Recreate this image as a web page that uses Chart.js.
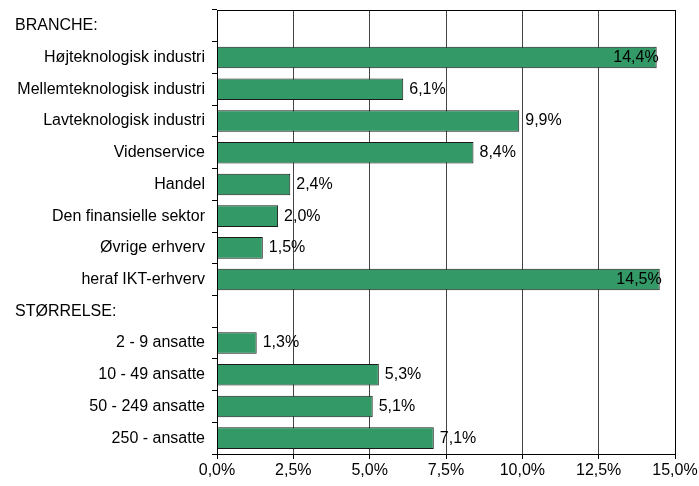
<!DOCTYPE html>
<html>
<head>
<meta charset="utf-8">
<script src="https://cdn.jsdelivr.net/npm/chart.js@4"></script>
<style>
html,body{margin:0;padding:0;background:#fff;}
#wrap{width:699px;height:486px;position:relative;}
</style>
</head>
<body>
<div id="wrap"><canvas id="c" width="699" height="486"></canvas></div>
<script>
const categories = ["BRANCHE:", "Højteknologisk industri", "Mellemteknologisk industri", "Lavteknologisk industri", "Videnservice", "Handel", "Den finansielle sektor", "Øvrige erhverv", "heraf IKT-erhverv", "STØRRELSE:", "2 - 9 ansatte", "10 - 49 ansatte", "50 - 249 ansatte", "250 - ansatte"];
const headerRows = ["BRANCHE:", "STØRRELSE:"];
const values = [null, 14.4, 6.1, 9.9, 8.4, 2.4, 2.0, 1.5, 14.5, null, 1.3, 5.3, 5.1, 7.1];
const xTicks = [0, 2.5, 5, 7.5, 10, 12.5, 15];

const FONT = '"Liberation Sans", Arial, sans-serif';
const FS = 16;
const fmt = v => v.toFixed(1).replace('.', ',') + '%';

const framePlugin = {
  id: 'frame',
  afterDatasetsDraw(chart) {
    const {ctx, chartArea: a} = chart;
    ctx.save();
    ctx.strokeStyle = '#000';
    ctx.lineWidth = 1;
    ctx.strokeRect(Math.round(a.left) + 0.5, Math.round(a.top) + 0.5, Math.round(a.right - a.left), Math.round(a.bottom - a.top));
    ctx.restore();
  },
  afterDraw(chart) {
    const {ctx, chartArea: a} = chart;
    const y = chart.scales.y;
    ctx.save();
    ctx.font = FS + 'px ' + FONT;
    ctx.fillStyle = '#000';
    ctx.textBaseline = 'middle';
    categories.forEach((c, i) => {
      if (headerRows.includes(c)) {
        ctx.textAlign = 'left';
        ctx.fillText(c, 15, y.getPixelForValue(i));
      }
    });
    const meta = chart.getDatasetMeta(0);
    meta.data.forEach((bar, i) => {
      const v = values[i];
      if (v === null) return;
      const t = fmt(v);
      const w = ctx.measureText(t).width;
      if (bar.x + 6 + w > a.right) {
        ctx.textAlign = 'right';
        ctx.fillText(t, bar.x + 2, bar.y);
      } else {
        ctx.textAlign = 'left';
        ctx.fillText(t, bar.x + 6, bar.y);
      }
    });
    ctx.restore();
  }
};

new Chart(document.getElementById('c'), {
  type: 'bar',
  data: {
    labels: categories,
    datasets: [{
      data: values,
      backgroundColor: '#339966',
      borderColor: '#1a1a1a',
      borderWidth: 1,
      barPercentage: 0.68,
      categoryPercentage: 1.0
    }]
  },
  options: {
    indexAxis: 'y',
    responsive: false,
    animation: false,
    layout: {padding: {left: 0, right: 24, top: 10, bottom: 0}},
    plugins: {legend: {display: false}, tooltip: {enabled: false}},
    scales: {
      x: {
        min: 0, max: 15,
        afterBuildTicks(scale) { scale.ticks = xTicks.map(v => ({value: v})); },
        afterFit(scale) { scale.height = 32; scale.paddingLeft = 0; scale.paddingRight = 0; },
        ticks: {
          font: {family: FONT, size: FS},
          color: '#000',
          padding: 2,
          maxRotation: 0,
          callback: v => fmt(v)
        },
        grid: {color: '#444', lineWidth: 1, tickLength: 5, tickColor: '#000'},
        border: {color: '#000'}
      },
      y: {
        afterFit(scale) { scale.width = 217; scale.paddingTop = 0; scale.paddingBottom = 0; },
        ticks: {
          font: {family: FONT, size: FS},
          color: '#000',
          padding: 7,
          callback: function(v, i) { return headerRows.includes(categories[i]) ? '' : categories[i]; }
        },
        grid: {drawOnChartArea: false, tickLength: 5, tickColor: '#000', offset: true},
        border: {color: '#000'}
      }
    }
  },
  plugins: [framePlugin]
});
</script>
</body>
</html>
